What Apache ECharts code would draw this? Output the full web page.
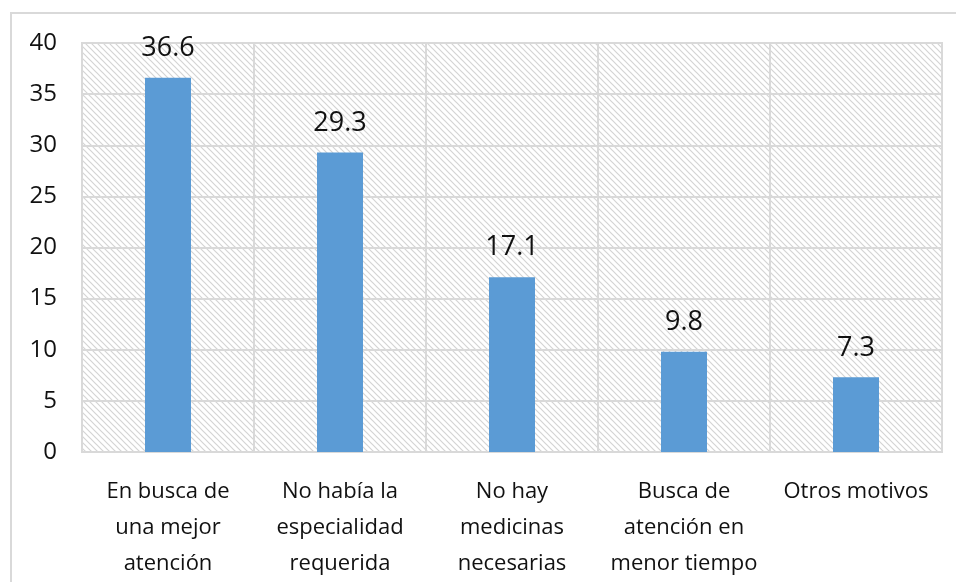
<!DOCTYPE html>
<html>
<head>
<meta charset="utf-8">
<script src="https://cdn.jsdelivr.net/npm/echarts@6/dist/echarts.min.js"></script>
<style>
  html, body { margin: 0; padding: 0; background: #ffffff; }
  #chart { width: 956px; height: 582px; }
</style>
</head>
<body>
<div id="chart"></div>
<script>
// Motivos de la elección del establecimiento (%)
const categories = [
  'En busca de\nuna mejor\natención',
  'No había la\nespecialidad\nrequerida',
  'No hay\nmedicinas\nnecesarias',
  'Busca de\natención en\nmenor tiempo',
  'Otros motivos'
];
const percentages = [36.6, 29.3, 17.1, 9.8, 7.3];
const yTicks = { min: 0, max: 40, interval: 5 };

// Diagonal hatch used as the plot-area fill
function hatchPattern() {
  const size = 6;
  const c = document.createElement('canvas');
  c.width = size; c.height = size;
  const g = c.getContext('2d');
  g.fillStyle = '#ffffff';
  g.fillRect(0, 0, size, size);
  g.strokeStyle = '#d4d4d4';
  g.lineWidth = 1.2;
  g.beginPath();
  g.moveTo(-1, -1); g.lineTo(size + 1, size + 1);
  g.moveTo(-1, size - 1); g.lineTo(1, size + 1);
  g.moveTo(size - 1, -1); g.lineTo(size + 1, 1);
  g.stroke();
  return c;
}

const fontFamily = '"Open Sans", "Noto Sans", sans-serif';
const textColor = '#111111';
const chart = echarts.init(document.getElementById('chart'));
chart.setOption({
  animation: false,
  backgroundColor: '#ffffff',
  graphic: [{
    type: 'rect',
    shape: { x: 11, y: 13, width: 960, height: 600 },
    style: { fill: 'none', stroke: '#d9d9d9', lineWidth: 2 },
    silent: true,
    z: -1
  }],
  grid: {
    left: 82, right: 14, top: 43, bottom: 129,
    show: true,
    backgroundColor: { image: hatchPattern(), repeat: 'repeat' },
    borderColor: '#d9d9d9',
    borderWidth: 2
  },
  xAxis: {
    type: 'category',
    data: categories,
    axisLine: { show: true, lineStyle: { color: '#d9d9d9', width: 2 } },
    axisTick: { show: false },
    splitLine: { show: true, interval: 0, lineStyle: { color: '#d9d9d9', width: 2 } },
    axisLabel: {
      interval: 0,
      margin: 22,
      color: textColor,
      fontFamily: fontFamily,
      fontSize: 22,
      lineHeight: 36
    }
  },
  yAxis: {
    type: 'value',
    min: yTicks.min,
    max: yTicks.max,
    interval: yTicks.interval,
    axisLine: { show: false },
    axisTick: { show: false },
    splitLine: { show: true, lineStyle: { color: '#d9d9d9', width: 2 } },
    axisLabel: {
      margin: 25,
      color: textColor,
      fontFamily: fontFamily,
      fontSize: 24
    }
  },
  series: [{
    type: 'bar',
    data: percentages,
    barWidth: 46,
    itemStyle: { color: '#5b9bd5' },
    label: {
      show: true,
      position: 'top',
      distance: 16,
      color: textColor,
      fontFamily: fontFamily,
      fontSize: 27,
      formatter: p => p.value.toFixed(1)
    }
  }]
});
</script>
</body>
</html>
